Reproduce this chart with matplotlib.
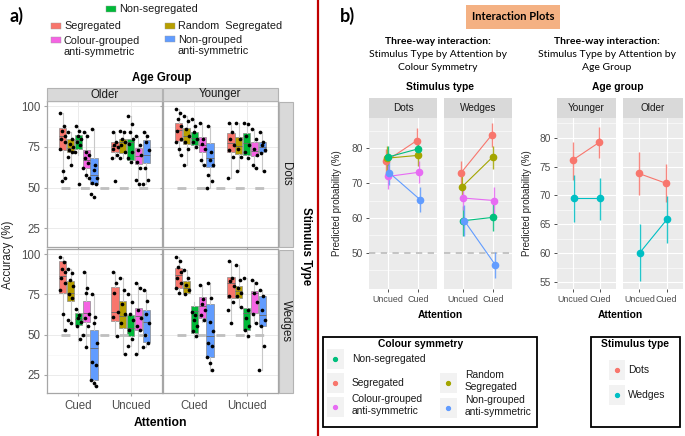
#!/usr/bin/env python3
"""Accuracy boxplots (a) and interaction plots (b)."""

import matplotlib
matplotlib.use('Agg')
import matplotlib.pyplot as plt
import numpy as np
from matplotlib.patches import Rectangle

plt.rcParams['font.family'] = ['Liberation Sans', 'DejaVu Sans']

W, H = 685, 436

# ---------------- panel a) data ----------------
colour_groups = ['Segregated', 'Random  Segregated', 'Non-segregated',
                 'Colour-grouped\nanti-symmetric', 'Non-grouped\nanti-symmetric']
attention_a = ['Cued', 'Uncued']
age_groups_a = ['Older', 'Younger']
stimulus_types = ['Dots', 'Wedges']

# box stats per colour group: [whisker low, q1, median, q3, whisker high]
dots_older_cued = [[54, 73.2, 81.9, 86.4, 96], [64, 71.6, 74.6, 79.9, 84], [70, 73.8, 79.3, 82.3, 88],
                   [56, 62, 67, 73.2, 84.4], [52, 52, 57.5, 68, 86]]
dots_older_uncued = [[68, 71.8, 75.6, 78.3, 84], [68, 71.2, 77.9, 79.9, 84.4], [66, 67.1, 78.3, 79.9, 94],
                     [52, 64.5, 69.7, 74.2, 82], [52, 65.1, 70.1, 79.3, 84]]
dots_younger_cued = [[70, 78.7, 85.4, 89.5, 98], [64, 76.6, 81.9, 86.8, 94], [74, 76.2, 80.7, 84.4, 92],
                     [64, 72.2, 76.2, 81.3, 90], [50, 63, 68.1, 77.3, 88]]
dots_younger_uncued = [[56, 71.8, 77.7, 83.8, 90], [60, 70.6, 75.6, 81.3, 90], [68, 70.1, 77.3, 83.4, 90],
                       [62, 69.7, 72.6, 77.9, 86], [60, 72.2, 75.2, 77.9, 84]]
wedges_older_cued = [[52, 75.8, 86.7, 95.6, 98], [57, 70.6, 75.8, 83.1, 91], [46, 56, 59.6, 63.3, 66],
                     [42, 57.5, 63.3, 70.6, 89], [18, 21.7, 41.9, 52.9, 75]]
wedges_older_uncued = [[49, 58.7, 63.8, 79.6, 89], [38, 54, 61.3, 70.6, 85], [43, 49.2, 54, 62.3, 75],
                       [38, 52.5, 61.3, 66.5, 82], [42, 45.6, 57.5, 65.4, 78]]
wedges_younger_cued = [[76, 79, 87.3, 91.5, 98], [75, 75.8, 79, 83.1, 90], [48, 50.8, 64.4, 67.9, 70],
                       [58, 60.2, 67.9, 73.3, 81], [27, 36.3, 48.8, 69.2, 82]]
wedges_younger_uncued = [[57, 72.7, 82.1, 85.8, 96], [67, 72.7, 76.9, 80.4, 93.5], [48, 52.5, 63.3, 66.5, 85],
                         [57, 63.3, 75.8, 76.9, 84], [28, 55, 62.3, 74.2, 78]]

# individual participant accuracies (%)
dots_older_cued_pts = [[96, 88, 85, 82, 80, 78, 74, 60, 56, 54], [84, 80, 77, 75, 73, 72, 69, 64],
                       [88, 85, 82, 80, 78, 76, 72, 52], [84, 82, 72, 70, 68, 65, 62, 58, 56],
                       [86, 64, 61, 56, 53, 52, 46, 44]]
dots_older_uncued_pts = [[84, 78, 76, 75, 74, 70, 68, 54], [85, 84, 80, 78, 76, 72, 68],
                         [94, 89, 84, 80, 77, 72, 68, 66], [82, 76, 73, 70, 66, 62, 55, 52],
                         [84, 82, 78, 73, 62, 55, 52]]
dots_younger_cued_pts = [[98, 96, 92, 88, 85, 80, 78, 74, 70], [94, 91, 86, 82, 78, 74, 64],
                         [92, 88, 84, 80, 78, 75], [90, 80, 77, 74, 67, 64],
                         [88, 72, 67, 64, 58, 54, 50]]
dots_younger_uncued_pts = [[90, 84, 80, 76, 73, 69, 56], [90, 80, 74, 69, 60],
                           [90, 89, 82, 76, 72, 68], [86, 80, 74, 70, 64, 62],
                           [84, 78, 76, 73, 71, 60]]
wedges_older_cued_pts = [[98, 95, 91, 89, 85, 82, 78, 63, 53], [91, 88, 84, 80, 75, 73, 59, 57],
                         [66, 62, 60, 58, 55, 47], [89, 79, 76, 63, 60, 55, 50, 42],
                         [75, 61, 57, 45, 33, 31, 22, 20, 18]]
wedges_older_uncued_pts = [[89, 82, 76, 64, 61, 49], [85, 78, 69, 63, 57, 38],
                           [75, 70, 63, 59, 53, 47, 43], [82, 79, 65, 60, 55, 53, 38],
                           [78, 71, 63, 57, 50, 45, 42]]
wedges_younger_cued_pts = [[98, 96, 92, 89, 85, 82, 79, 76], [90, 85, 81, 78, 75],
                           [64, 62, 59, 55, 52, 49], [81, 72, 69, 65, 62, 59],
                           [82, 73, 58, 52, 45, 43, 36, 32, 28]]
wedges_younger_uncued_pts = [[96, 85, 83, 80, 74, 70, 65, 57], [93, 84, 79, 76, 74, 67],
                             [85, 65, 60, 55, 53, 49], [84, 82, 76, 70, 63, 57],
                             [78, 74, 65, 59, 55, 43, 28]]

# ---------------- panel b) data ----------------
attention_b = ['Uncued', 'Cued']
age_groups_b = ['Younger', 'Older']
# predicted probability (%) per colour group [Uncued, Cued], order as colour_groups
pred_dots = [[76.2, 82.1], [77.1, 77.9], [77.4, 79.8], [71.9, 73.1], [72.9, 65.2]]
pred_dots_lo = [[72.3, 78.5], [73.5, 75.0], [73.6, 77.2], [68.3, 70.0], [69.4, 61.6]]
pred_dots_hi = [[79.8, 85.8], [80.5, 81.0], [80.6, 82.2], [75.2, 76.2], [76.2, 68.8]]
pred_wedges = [[72.8, 83.7], [68.8, 77.4], [59.2, 60.2], [65.7, 65.0], [59.2, 46.6]]
pred_wedges_lo = [[69.0, 80.3], [65.0, 74.0], [54.8, 56.4], [62.2, 61.2], [54.8, 42.8]]
pred_wedges_hi = [[76.4, 87.1], [72.4, 80.6], [63.4, 64.0], [69.1, 68.8], [63.6, 50.4]]
# per stimulus type [Dots, Wedges] -> [Uncued, Cued]
pred_younger = [[76.1, 79.2], [69.6, 69.6]]
pred_younger_lo = [[72.7, 76.5], [65.4, 65.8]]
pred_younger_hi = [[79.3, 81.8], [73.6, 73.1]]
pred_older = [[73.8, 72.1], [60.1, 65.9]]
pred_older_lo = [[70.0, 68.8], [55.1, 61.8]]
pred_older_hi = [[77.5, 75.5], [65.0, 69.9]]

box_cols = ['#F8766D', '#B79F00', '#00BA38', '#F564E3', '#619CFF']
pal_b = ['#F8766D', '#A3A500', '#00BF7D', '#E76BF3', '#619CFF']
stim_cols = ['#F8766D', '#00BFC4']
jitter = np.array([-0.045, 0.02, -0.01, 0.05, -0.03, 0.035, -0.055, 0.005, 0.045, -0.02])


def px_axes(fig, x0, y0, x1, y1):
    return fig.add_axes([x0 / W, 1 - y1 / H, (x1 - x0) / W, (y1 - y0) / H])


def box_panel(ax, stats_pair, pts_pair, show_x, show_y):
    ax.set_xlim(0.4, 2.6)
    ax.set_ylim(13.6, 103.2)
    ax.set_xticks([1, 2])
    ax.set_yticks([25, 50, 75, 100])
    ax.set_yticks([37.5, 62.5, 87.5], minor=True)
    ax.grid(True, which='major', color='#EBEBEB', lw=0.7)
    ax.grid(True, which='minor', axis='y', color='#F3F3F3', lw=0.4)
    ax.set_axisbelow(True)
    for sp in ax.spines.values():
        sp.set_color('#A6A6A6')
        sp.set_linewidth(0.9)
    ax.tick_params(length=2, color='#A6A6A6', labelsize=8.3, labelcolor='#4D4D4D', pad=3)
    ax.tick_params(which='minor', length=0)
    ax.set_xticklabels(attention_a if show_x else [])
    if not show_y:
        ax.set_yticklabels([])
    offsets = np.array([-0.3, -0.15, 0, 0.15, 0.3])
    for i, (stats, pts) in enumerate(zip(stats_pair, pts_pair)):
        bstats = [dict(whislo=s[0], q1=s[1], med=s[2], q3=s[3], whishi=s[4], fliers=[]) for s in stats]
        res = ax.bxp(bstats, positions=i + 1 + offsets, widths=0.14, patch_artist=True,
                     showfliers=False, showcaps=False, manage_ticks=False,
                     boxprops=dict(edgecolor='#8C8C8C', linewidth=0.5),
                     whiskerprops=dict(color='#C8C8C8', linewidth=0.8),
                     medianprops=dict(color='#666666', linewidth=0.6))
        for patch, c in zip(res['boxes'], box_cols):
            patch.set_facecolor(c)
        for j, p in enumerate(pts):
            xs = i + 1 + offsets[j] + jitter[:len(p)]
            ax.scatter(xs, p, s=7, color='black', zorder=5, linewidths=0)
    ax.hlines(50, 0.67, 2.33, color='#BFBFBF', lw=2, linestyles=(0, (3.2, 3.8)), zorder=4)


def gg_axes(ax, ylim, majors, minors, show_y):
    ax.set_facecolor('#EBEBEB')
    for sp in ax.spines.values():
        sp.set_visible(False)
    ax.set_xlim(0.4, 2.6)
    ax.set_ylim(*ylim)
    ax.set_xticks([1, 2])
    ax.set_xticklabels(attention_b)
    ax.set_yticks(majors)
    ax.set_yticks(minors, minor=True)
    ax.grid(True, which='major', color='white', lw=0.8)
    ax.grid(True, which='minor', axis='y', color='white', lw=0.4)
    ax.set_axisbelow(True)
    ax.tick_params(length=2.5, width=0.6, color='#333333', labelsize=7.3, labelcolor='#4D4D4D', pad=1.8)
    ax.tick_params(axis='x', labelsize=6.4)
    ax.tick_params(which='minor', length=0)
    if not show_y:
        ax.set_yticklabels([])
        ax.tick_params(axis='y', length=0)


def interaction(ax, means, lo, hi, colours, dodge):
    x = np.array([1, 2])
    for m, l, h, c, d in zip(means, lo, hi, colours, dodge):
        ax.vlines(x + d, l, h, color=c, lw=1.0, alpha=0.85, zorder=3)
        ax.plot(x + d, m, color=c, lw=0.8, marker='o', ms=4.5, zorder=4)


fig = plt.figure(figsize=(W / 100, H / 100), dpi=100)

# ---- a) boxplots ----
cols_x = [(47, 162), (163, 278)]
rows_y = [(101, 247), (249, 393)]
panels = [
    [(dots_older_cued, dots_older_uncued, dots_older_cued_pts, dots_older_uncued_pts),
     (dots_younger_cued, dots_younger_uncued, dots_younger_cued_pts, dots_younger_uncued_pts)],
    [(wedges_older_cued, wedges_older_uncued, wedges_older_cued_pts, wedges_older_uncued_pts),
     (wedges_younger_cued, wedges_younger_uncued, wedges_younger_cued_pts, wedges_younger_uncued_pts)],
]
for r, (y0, y1) in enumerate(rows_y):
    for c, (x0, x1) in enumerate(cols_x):
        ax = px_axes(fig, x0, y0, x1, y1)
        cued, uncued, cued_pts, uncued_pts = panels[r][c]
        box_panel(ax, [cued, uncued], [cued_pts, uncued_pts], show_x=(r == 1), show_y=(c == 0))

# ---- b) interaction plots ----
dodge5 = [-0.06, -0.03, 0.0, 0.03, 0.06]
ax_d = px_axes(fig, 369, 118, 437, 289)
ax_w = px_axes(fig, 444, 118, 512, 289)
for ax, m, lo, hi, show_y in [(ax_d, pred_dots, pred_dots_lo, pred_dots_hi, True),
                              (ax_w, pred_wedges, pred_wedges_lo, pred_wedges_hi, False)]:
    gg_axes(ax, (39.7, 88.6), [50, 60, 70, 80], [45, 55, 65, 75, 85], show_y)
    ax.axhline(50, color='#BFBFBF', lw=1.3, ls=(0, (3.5, 3)), zorder=2)
    interaction(ax, m, lo, hi, pal_b, dodge5)

ax_y = px_axes(fig, 557, 118, 616, 289)
ax_o = px_axes(fig, 623, 118, 683, 289)
for ax, m, lo, hi, show_y in [(ax_y, pred_younger, pred_younger_lo, pred_younger_hi, True),
                              (ax_o, pred_older, pred_older_lo, pred_older_hi, False)]:
    gg_axes(ax, (53.8, 83.4), [55, 60, 65, 70, 75, 80], [57.5, 62.5, 67.5, 72.5, 77.5, 82.5], show_y)
    interaction(ax, m, lo, hi, stim_cols, [-0.02, 0.02])

# ---- overlay for text, strips and legends (pixel coordinates) ----
ov = fig.add_axes([0, 0, 1, 1], zorder=10)
ov.set_xlim(0, W)
ov.set_ylim(H, 0)
ov.axis('off')

calibri_like = ['Lato', 'DejaVu Sans']

# divider
ov.plot([318, 318], [0, H], color='#C00000', lw=1.6)

# a) labels and legend
ov.text(10, 16, 'a)', fontsize=13, fontweight='bold', family=calibri_like, va='center')
legend_a = [(2, 106, 9), (0, 51, 26), (1, 165, 26), (3, 51, 40), (4, 165, 39)]
for gi, kx, ky in legend_a:
    ov.add_patch(Rectangle((kx, ky - 3), 10, 6, fc=box_cols[gi], ec='#9E9E9E', lw=0.3))
    ty = ky + 6.5 if '\n' in colour_groups[gi] else ky
    ov.text(kx + 13, ty, colour_groups[gi], fontsize=7.8, va='center', ha='left', color='#1A1A1A')

ov.text(162, 78, 'Age Group', fontsize=8.3, fontweight='bold', ha='center', va='center')
for (x0, x1), lab in zip(cols_x, age_groups_a):
    ov.add_patch(Rectangle((x0, 88), x1 - x0, 13, fc='#D9D9D9', ec='#B3B3B3', lw=0.8))
    ov.text((x0 + x1) / 2, 94.5, lab, fontsize=8.3, ha='center', va='center', color='#1A1A1A')
for (y0, y1), lab in zip(rows_y, stimulus_types):
    ov.add_patch(Rectangle((279, y0 + 1), 14, y1 - y0 - 1, fc='#D9D9D9', ec='#B3B3B3', lw=0.8))
    ov.text(286, (y0 + y1) / 2, lab, fontsize=8.3, ha='center', va='center', rotation=-90, color='#1A1A1A')
ov.text(306, 246, 'Stimulus Type', fontsize=8.3, fontweight='bold', ha='center', va='center', rotation=-90)
ov.text(8, 255, 'Accuracy (%)', fontsize=8.3, ha='center', va='center', rotation=90, color='#222222')
ov.text(160, 423, 'Attention', fontsize=8.7, fontweight='bold', ha='center', va='center')

# b) headings
ov.text(340, 16, 'b)', fontsize=13, fontweight='bold', family=calibri_like, va='center')
ov.text(513, 17, 'Interaction Plots', fontsize=8, fontweight='bold', family=calibri_like,
        ha='center', va='center',
        bbox=dict(boxstyle='square,pad=0.55', fc='#F4B183', ec='none'))
for cx, last in [(438, 'Colour Symmetry'), (607, 'Age Group')]:
    ov.text(cx, 41, 'Three-way interaction:', fontsize=7.5, fontweight='bold', family=calibri_like,
            ha='center', va='center')
    ov.text(cx, 54.5, 'Stimulus Type by Attention by', fontsize=7.5, family=calibri_like,
            ha='center', va='center')
    ov.text(cx, 68, last, fontsize=7.5, family=calibri_like, ha='center', va='center')
ov.text(440, 87, 'Stimulus type', fontsize=7.4, fontweight='bold', ha='center', va='center')
ov.text(618, 87, 'Age group', fontsize=7.4, fontweight='bold', ha='center', va='center')

for (x0, x1), lab in zip([(369, 437), (444, 512)], stimulus_types):
    ov.add_patch(Rectangle((x0, 98), x1 - x0, 20, fc='#D9D9D9', ec='none'))
    ov.text((x0 + x1) / 2, 108, lab, fontsize=7.2, ha='center', va='center', color='#1A1A1A')
for (x0, x1), lab in zip([(557, 616), (623, 683)], age_groups_b):
    ov.add_patch(Rectangle((x0, 98), x1 - x0, 20, fc='#D9D9D9', ec='none'))
    ov.text((x0 + x1) / 2, 108, lab, fontsize=7.2, ha='center', va='center', color='#1A1A1A')

for x in (337, 527):
    ov.text(x, 203, 'Predicted probability (%)', fontsize=7, rotation=90, ha='center', va='center',
            color='#222222')
for x in (440, 620):
    ov.text(x, 315, 'Attention', fontsize=7.4, fontweight='bold', ha='center', va='center')

# b) legends
ov.add_patch(Rectangle((323, 337), 214, 90, fc='white', ec='black', lw=1.3))
ov.text(421, 344, 'Colour symmetry', fontsize=7.4, fontweight='bold', ha='center', va='center')
legend_b = [(2, 335, 359), (0, 335, 383), (3, 335, 407), (1, 448, 383), (4, 448, 408)]
for gi, kx, ky in legend_b:
    ov.add_patch(Rectangle((kx - 8, ky - 10), 17, 20, fc='#F2F2F2', ec='none'))
    ov.plot(kx, ky, 'o', ms=2.8, color=pal_b[gi])
    lab = colour_groups[gi].replace('Random  Segregated', 'Random\nSegregated')
    ty = ky - 2 if '\n' in lab else ky
    ov.text(kx + 17, ty, lab, fontsize=7.4, ha='left', va='center', color='#1A1A1A')

ov.add_patch(Rectangle((591, 337), 89, 90, fc='white', ec='black', lw=1.3))
ov.text(635, 344, 'Stimulus type', fontsize=7.4, fontweight='bold', ha='center', va='center')
for si, ky in [(0, 370), (1, 395)]:
    ov.add_patch(Rectangle((609, ky - 10), 16, 20, fc='#F2F2F2', ec='none'))
    ov.plot(617, ky, 'o', ms=2.8, color=stim_cols[si])
    ov.text(628, ky, stimulus_types[si], fontsize=7.4, ha='left', va='center', color='#1A1A1A')

fig.savefig('out.png', dpi=100)
